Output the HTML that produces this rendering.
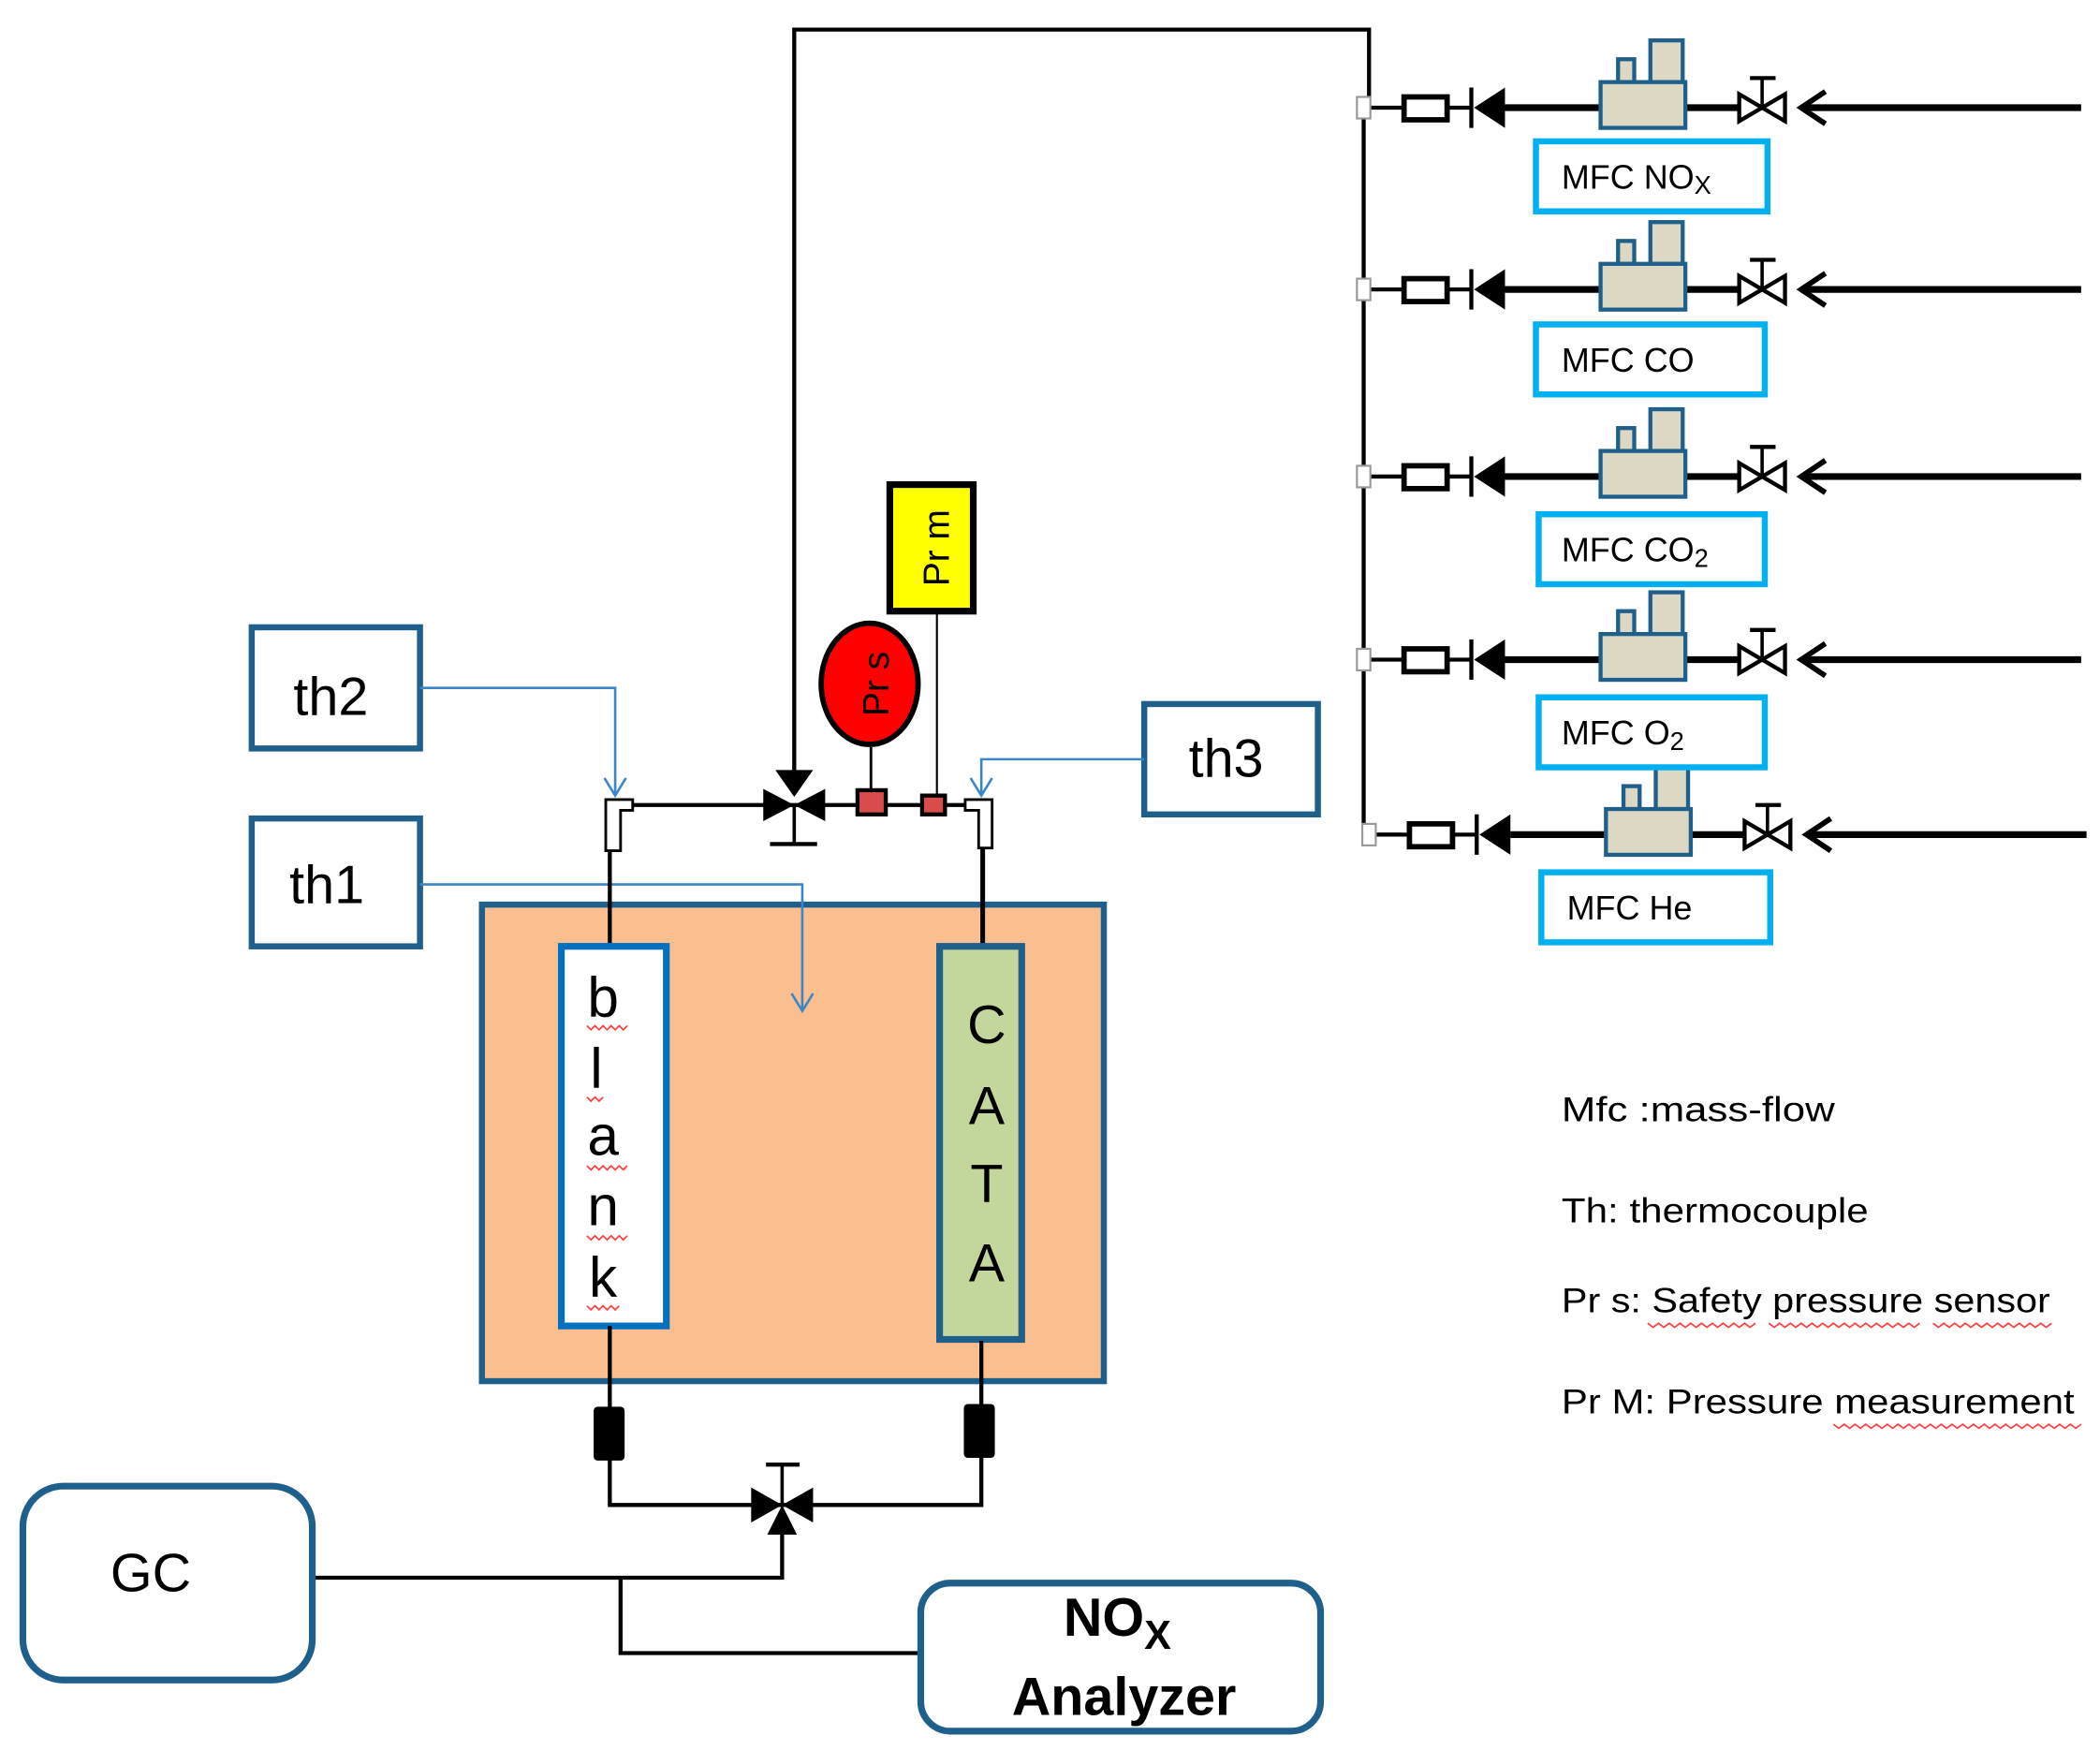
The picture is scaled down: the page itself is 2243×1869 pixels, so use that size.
<!DOCTYPE html>
<html><head><meta charset="utf-8"><style>
html,body{margin:0;padding:0;background:#fff;}
svg{display:block;}
text{font-family:"Liberation Sans",sans-serif;}
</style></head><body>
<svg width="2243" height="1869" viewBox="0 0 1560 1300" preserveAspectRatio="none" xmlns="http://www.w3.org/2000/svg">
<defs>
<g id="row">
  <line x1="1015" y1="0" x2="1042" y2="0" stroke="#000" stroke-width="3"/>
  <rect x="1008" y="-8" width="10" height="16" fill="#fff" stroke="#999" stroke-width="1.5"/>
  <rect x="1043" y="-8" width="32" height="17" fill="#fff" stroke="#000" stroke-width="4"/>
  <line x1="1076" y1="0" x2="1092" y2="0" stroke="#000" stroke-width="3"/>
  <line x1="1093" y1="-15" x2="1093" y2="15" stroke="#000" stroke-width="3"/>
  <polygon points="1095,0 1118,-15 1118,15" fill="#000"/>
  <line x1="1118" y1="0" x2="1292" y2="0" stroke="#000" stroke-width="5"/>
  <rect x="1202" y="-36" width="12" height="17" fill="#ddd8c4" stroke="#1f5f8b" stroke-width="3"/>
  <rect x="1226" y="-50" width="24" height="31" fill="#ddd8c4" stroke="#1f5f8b" stroke-width="3"/>
  <rect x="1189" y="-19" width="63" height="34" fill="#ddd8c4" stroke="#1f5f8b" stroke-width="3"/>
  <polygon points="1292,-10 1309,0 1292,10" fill="#fff" stroke="#000" stroke-width="3"/>
  <polygon points="1326,-10 1309,0 1326,10" fill="#fff" stroke="#000" stroke-width="3"/>
  <line x1="1309" y1="0" x2="1309" y2="-21" stroke="#000" stroke-width="2.5"/>
  <line x1="1300" y1="-22" x2="1319" y2="-22" stroke="#000" stroke-width="3"/>
  <polyline points="1356,-12 1338,0 1356,12" fill="none" stroke="#000" stroke-width="4"/>
  <line x1="1338" y1="0" x2="1546" y2="0" stroke="#000" stroke-width="5"/>
</g>
</defs>

<!-- main feed line -->
<polyline points="590,590 590,22 1017,22 1017,80" fill="none" stroke="#000" stroke-width="3"/>
<polyline points="1013,80 1013,620 1042,620" fill="none" stroke="#000" stroke-width="3"/>
<polygon points="576,572 604,572 590,592" fill="#000"/>

<use href="#row" transform="translate(0,80)"/>
<use href="#row" transform="translate(0,215)"/>
<use href="#row" transform="translate(0,354)"/>
<use href="#row" transform="translate(0,490)"/>
<use href="#row" transform="translate(4,620)"/>

<!-- MFC labels -->
<g fill="#fff" stroke="#00b0f0" stroke-width="4.5">
<rect x="1141" y="105" width="172" height="52"/>
<rect x="1141" y="241" width="170" height="52"/>
<rect x="1143" y="382" width="168" height="52"/>
<rect x="1143" y="518" width="168" height="52"/>
<rect x="1145" y="648" width="170" height="52"/>
</g>
<g font-size="25" fill="#000">
<text x="1160" y="140">MFC NO<tspan font-size="19" dy="4">X</tspan></text>
<text x="1160" y="276">MFC CO</text>
<text x="1160" y="417">MFC CO<tspan font-size="19" dy="4">2</tspan></text>
<text x="1160" y="553">MFC O<tspan font-size="19" dy="4">2</tspan></text>
<text x="1164" y="683">MFC He</text>
</g>

<!-- th boxes -->
<g fill="#fff" stroke="#1f5f8b" stroke-width="4.5">
<rect x="187" y="466" width="125" height="90"/>
<rect x="187" y="608" width="125" height="95"/>
<rect x="850" y="523" width="129" height="82"/>
</g>
<g font-size="40" fill="#000">
<text x="218" y="531">th2</text>
<text x="215" y="671">th1</text>
<text x="883" y="577">th3</text>
</g>

<!-- Oven -->
<rect x="358" y="672" width="462" height="354" fill="#fbbf8f" stroke="#1f5f8b" stroke-width="4.5"/>

<!-- thermocouple lines -->
<g fill="none" stroke="#3a86c8" stroke-width="1.8">
<polyline points="312,511 457,511 457,590"/>
<polyline points="449,578 457,591 465,578"/>
<polyline points="312,657 596,657 596,750"/>
<polyline points="588,738 596,751 604,738"/>
<polyline points="850,564 729,564 729,590"/>
<polyline points="721,578 729,591 737,578"/>
</g>

<!-- top pipe -->
<line x1="460" y1="598" x2="728" y2="598" stroke="#000" stroke-width="3"/>
<line x1="453" y1="630" x2="453" y2="702" stroke="#000" stroke-width="3"/>
<line x1="730" y1="630" x2="730" y2="702" stroke="#000" stroke-width="3.5"/>
<!-- elbows -->
<path d="M450,594 L470,594 L470,602 L461,602 L461,632 L450,632 Z" fill="#fff" stroke="#000" stroke-width="2"/>
<path d="M737,594 L717,594 L717,602 L727,602 L727,630 L737,630 Z" fill="#fff" stroke="#000" stroke-width="2"/>
<!-- 3 way valve top -->
<polygon points="567,586 590,598 567,610" fill="#000"/>
<polygon points="613,586 590,598 613,610" fill="#000"/>
<line x1="590" y1="598" x2="590" y2="626" stroke="#000" stroke-width="2.5"/>
<line x1="572" y1="627" x2="607" y2="627" stroke="#000" stroke-width="3"/>
<!-- sensors -->
<line x1="647" y1="555" x2="647" y2="590" stroke="#000" stroke-width="2"/>
<line x1="696" y1="454" x2="696" y2="592" stroke="#000" stroke-width="1.5"/>
<rect x="637" y="587" width="21" height="18" fill="#d94c4c" stroke="#000" stroke-width="3"/>
<rect x="685" y="591" width="17" height="14" fill="#d94c4c" stroke="#000" stroke-width="3"/>
<ellipse cx="646" cy="508" rx="36" ry="45" fill="#ff0000" stroke="#000" stroke-width="4"/>
<text transform="translate(660,508) rotate(-90)" text-anchor="middle" font-size="27" fill="#000">Pr s</text>
<rect x="661" y="360" width="62" height="94" fill="#ffff00" stroke="#000" stroke-width="5"/>
<text transform="translate(705,407) rotate(-90)" text-anchor="middle" font-size="27" fill="#000">Pr m</text>

<!-- tubes -->
<rect x="417" y="703" width="78" height="282" fill="#fff" stroke="#0070c0" stroke-width="5"/>
<g font-size="42" fill="#000" text-anchor="middle">
<text x="448" y="755">b</text>
<text x="443" y="808">l</text>
<text x="448" y="858">a</text>
<text x="448" y="910">n</text>
<text x="448" y="963">k</text>
</g>
<g stroke="#ff4040" stroke-width="1.2" fill="none">
<polyline points="436,762 439,765 442,762 445,765 448,762 451,765 454,762 457,765 460,762 463,765 466,762"/>
<polyline points="436,815 439,818 442,815 445,818 448,815"/>
<polyline points="436,866 439,869 442,866 445,869 448,866 451,869 454,866 457,869 460,866 463,869 466,866"/>
<polyline points="436,918 439,921 442,918 445,921 448,918 451,921 454,918 457,921 460,918 463,921 466,918"/>
<polyline points="436,970 439,973 442,970 445,973 448,970 451,973 454,970 457,973 460,970"/>
</g>
<rect x="698" y="703" width="61" height="292" fill="#c3d69b" stroke="#1f5f8b" stroke-width="5"/>
<g font-size="40" fill="#000" text-anchor="middle">
<text x="733" y="775">C</text>
<text x="733" y="835">A</text>
<text x="733" y="893">T</text>
<text x="733" y="952">A</text>
</g>

<!-- bottom pipes -->
<polyline points="453,985 453,1118 581,1118" fill="none" stroke="#000" stroke-width="3"/>
<polyline points="729,996 729,1118 581,1118" fill="none" stroke="#000" stroke-width="3"/>
<rect x="441" y="1045" width="23" height="40" rx="3" fill="#000"/>
<rect x="716" y="1043" width="23" height="40" rx="3" fill="#000"/>
<polygon points="558,1105 581,1118 558,1131" fill="#000"/>
<polygon points="604,1105 581,1118 604,1131" fill="#000"/>
<polygon points="570,1140 592,1140 581,1118" fill="#000"/>
<line x1="581" y1="1118" x2="581" y2="1088" stroke="#000" stroke-width="2.5"/>
<line x1="569" y1="1088" x2="594" y2="1088" stroke="#000" stroke-width="3"/>
<polyline points="581,1135 581,1172 232,1172" fill="none" stroke="#000" stroke-width="3"/>
<polyline points="461,1172 461,1228 684,1228" fill="none" stroke="#000" stroke-width="3"/>

<!-- GC & NOx -->
<rect x="17" y="1104" width="215" height="144" rx="30" fill="#fff" stroke="#1f5f8b" stroke-width="5"/>
<text x="112" y="1182" font-size="40" fill="#000" text-anchor="middle">GC</text>
<rect x="684" y="1176" width="297" height="110" rx="22" fill="#fff" stroke="#1f5f8b" stroke-width="5"/>
<text x="830" y="1215" font-size="40" font-weight="bold" fill="#000" text-anchor="middle">NO<tspan font-size="30" dy="10">X</tspan></text>
<text x="835" y="1274" font-size="40" font-weight="bold" fill="#000" text-anchor="middle">Analyzer</text>

<!-- legend -->
<g font-size="26" fill="#000">
<text x="1160" y="833" textLength="203" lengthAdjust="spacingAndGlyphs">Mfc :mass-flow</text>
<text x="1160" y="908" textLength="228" lengthAdjust="spacingAndGlyphs">Th: thermocouple</text>
<text x="1160" y="975" textLength="363" lengthAdjust="spacingAndGlyphs">Pr s: Safety pressure sensor</text>
<text x="1160" y="1050" textLength="381" lengthAdjust="spacingAndGlyphs">Pr M: Pressure measurement</text>
</g>
<g stroke="#ff4040" stroke-width="1.2" fill="none">
<polyline points="1224,983 1228,986 1232,983 1236,986 1240,983 1244,986 1248,983 1252,986 1256,983 1260,986 1264,983 1268,986 1272,983 1276,986 1280,983 1284,986 1288,983 1292,986 1296,983 1300,986 1304,983"/>
<polyline points="1314,983 1318,986 1322,983 1326,986 1330,983 1334,986 1338,983 1342,986 1346,983 1350,986 1354,983 1358,986 1362,983 1366,986 1370,983 1374,986 1378,983 1382,986 1386,983 1390,986 1394,983 1398,986 1402,983 1406,986 1410,983 1414,986 1418,983 1422,986 1426,983"/>
<polyline points="1436,983 1440,986 1444,983 1448,986 1452,983 1456,986 1460,983 1464,986 1468,983 1472,986 1476,983 1480,986 1484,983 1488,986 1492,983 1496,986 1500,983 1504,986 1508,983 1512,986 1516,983 1520,986 1524,983"/>
<polyline points="1362,1058 1366,1061 1370,1058 1374,1061 1378,1058 1382,1061 1386,1058 1390,1061 1394,1058 1398,1061 1402,1058 1406,1061 1410,1058 1414,1061 1418,1058 1422,1061 1426,1058 1430,1061 1434,1058 1438,1061 1442,1058 1446,1061 1450,1058 1454,1061 1458,1058 1462,1061 1466,1058 1470,1061 1474,1058 1478,1061 1482,1058 1486,1061 1490,1058 1494,1061 1498,1058 1502,1061 1506,1058 1510,1061 1514,1058 1518,1061 1522,1058 1526,1061 1530,1058 1534,1061 1538,1058 1542,1061 1546,1058"/>
</g>
</svg>
</body></html>
